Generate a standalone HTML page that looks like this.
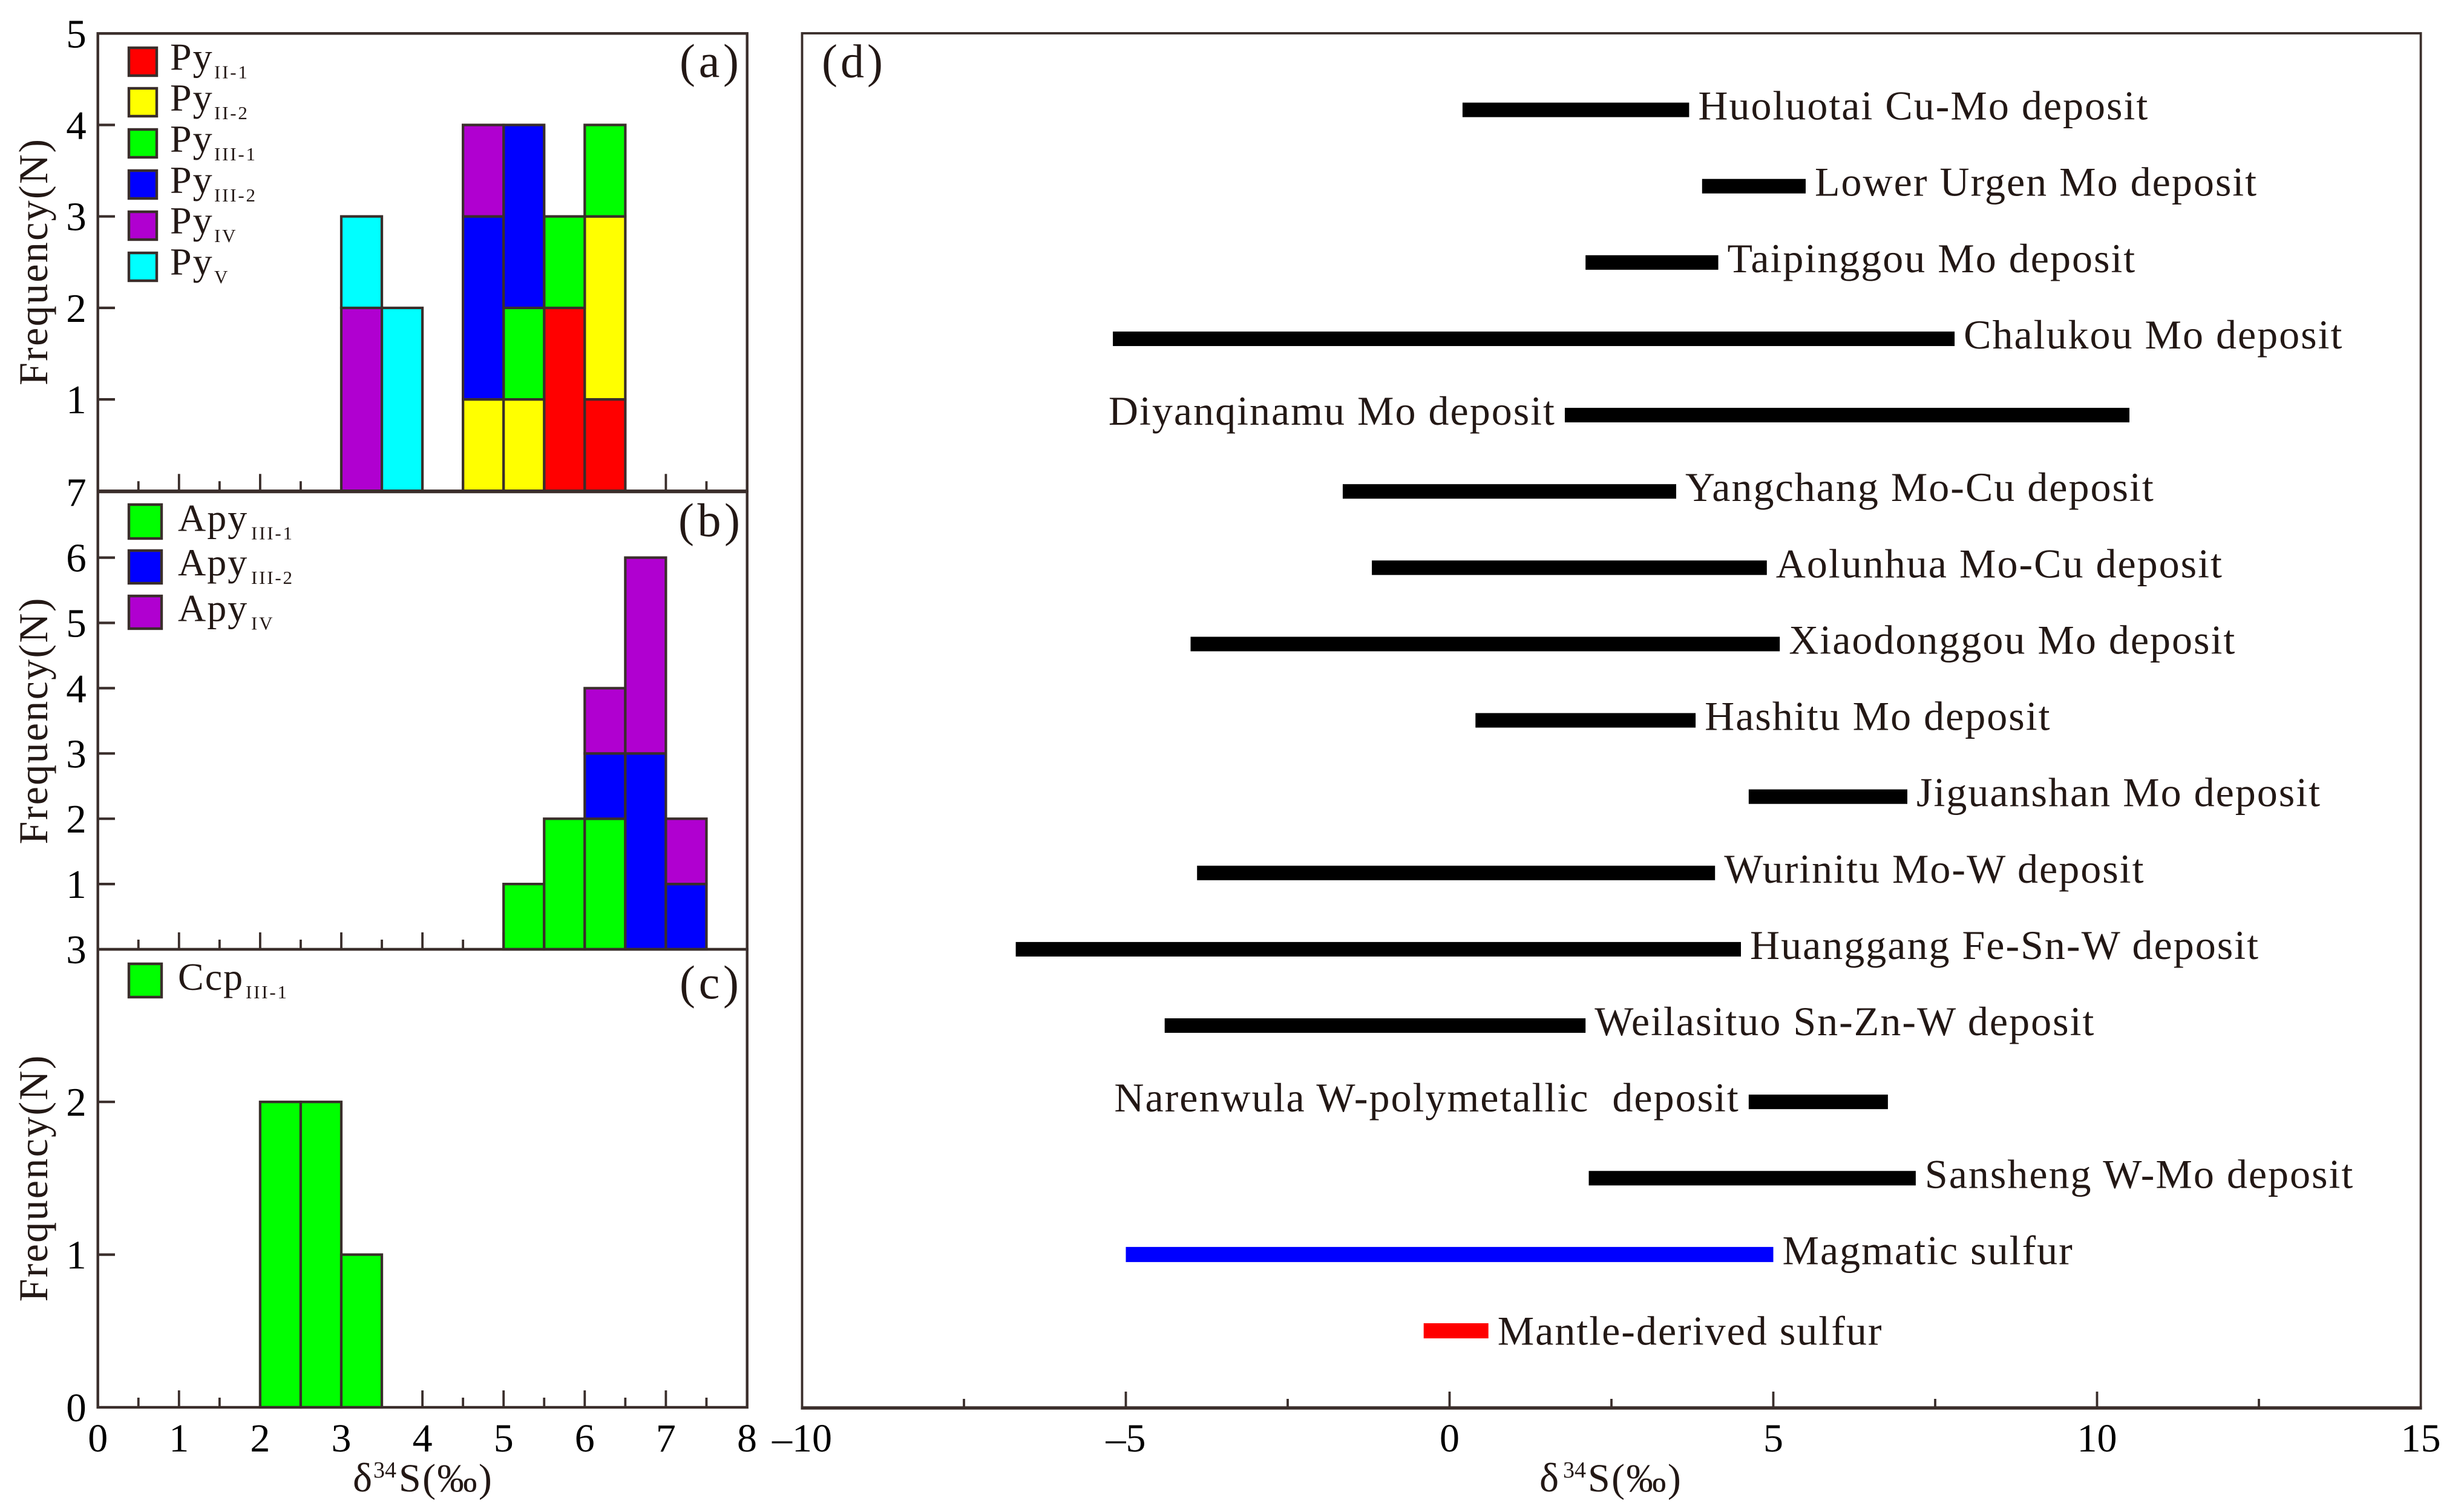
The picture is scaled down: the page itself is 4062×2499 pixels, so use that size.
<!DOCTYPE html>
<html lang="en">
<head>
<meta charset="utf-8">
<title>Sulfur isotope histograms and deposit ranges</title>
<style>
html,body{margin:0;padding:0;background:#fff;width:4062px;height:2499px;overflow:hidden}
svg{display:block}
text{font-family:"Liberation Serif","Times New Roman",serif;fill:#231815;white-space:pre}
</style>
</head>
<body>
<svg id="fig" xmlns="http://www.w3.org/2000/svg" width="4062" height="2499" viewBox="0 0 4062 2499"></svg>
<script>
// ---- Panel (a) data: bin starts and per-series counts ----
const binsA = [3, 3.5, 4, 4.5, 5, 5.5, 6];
const pyII1 = [0, 0, 0, 0, 0, 2, 1];
const pyII2 = [0, 0, 0, 1, 1, 0, 2];
const pyIII1 = [0, 0, 0, 0, 1, 1, 1];
const pyIII2 = [0, 0, 0, 2, 2, 0, 0];
const pyIV = [2, 0, 0, 1, 0, 0, 0];
const pyV = [1, 2, 0, 0, 0, 0, 0];
const ticksA = [1, 2, 3, 4, 5];
// ---- Panel (b) data ----
const binsB = [5, 5.5, 6, 6.5, 7];
const apyIII1 = [1, 2, 2, 0, 0];
const apyIII2 = [0, 0, 1, 3, 1];
const apyIV = [0, 0, 1, 3, 1];
const ticksB = [1, 2, 3, 4, 5, 6, 7];
// ---- Panel (c) data ----
const binsC = [2, 2.5, 3];
const ccpIII1 = [2, 2, 1];
const ticksC = [0, 1, 2, 3];
const ticksHistX = [0, 1, 2, 3, 4, 5, 6, 7, 8];
const minorHistX = [0.5, 1.5, 2.5, 3.5, 4.5, 5.5, 6.5, 7.5];
// ---- Panel (d) data ----
const deposits = ["Huoluotai Cu-Mo deposit", "Lower Urgen Mo deposit", "Taipinggou Mo deposit", "Chalukou Mo deposit", "Diyanqinamu Mo deposit", "Yangchang Mo-Cu deposit", "Aolunhua Mo-Cu deposit", "Xiaodonggou Mo deposit", "Hashitu Mo deposit", "Jiguanshan Mo deposit", "Wurinitu Mo-W deposit", "Huanggang Fe-Sn-W deposit", "Weilasituo Sn-Zn-W deposit", "Narenwula W-polymetallic  deposit", "Sansheng W-Mo deposit", "Magmatic sulfur", "Mantle-derived sulfur"];
const rangeMin = [0.2, 3.9, 2.1, -5.2, 1.78, -1.65, -1.2, -4.0, 0.4, 4.62, -3.9, -6.7, -4.4, 4.62, 2.15, -5, -0.4];
const rangeMax = [3.7, 5.5, 4.15, 7.8, 10.5, 3.5, 4.9, 5.1, 3.8, 7.07, 4.1, 4.5, 2.1, 6.77, 7.2, 5, 0.6];
const rangeKind = ["deposit", "deposit", "deposit", "deposit", "deposit", "deposit", "deposit", "deposit", "deposit", "deposit", "deposit", "deposit", "deposit", "deposit", "deposit", "magmatic", "mantle"];
const labelSide = ["right", "right", "right", "right", "left", "right", "right", "right", "right", "right", "right", "right", "right", "left", "right", "right", "right"];
const ticksDX = [-10, -5, 0, 5, 10, 15];
const minorDX = [-7.5, -2.5, 2.5, 7.5, 12.5];

const INK = "#3a2e2b";
const PURPLE = "#b000d0";
const svg = document.getElementById("fig");
const NS = "http://www.w3.org/2000/svg";
function mk(tag, attrs, text) {
  const el = document.createElementNS(NS, tag);
  for (const k in attrs) el.setAttribute(k, attrs[k]);
  if (text !== undefined) el.textContent = text;
  svg.appendChild(el);
  return el;
}
const histX = v => 161.7 + 134.1 * v;
const dX = v => 2395.5 + 107 * v;

function hline(x1, y1, x2, y2, w, name) {
  const el = mk("line", {x1, y1, x2, y2, stroke: INK, "stroke-width": w});
  
  
}

function drawSeries(bins, yScale, baseCounts, counts, color, name) {
  bins.forEach((b, i) => {
    if (!counts[i]) return;
    const base = baseCounts[i];
    const top = yScale(base + counts[i]);
    const bot = yScale(base);
    const r = mk("rect", {x: histX(b), y: top, width: histX(b + 0.5) - histX(b), height: bot - top, fill: color, stroke: INK, "stroke-width": 4.2});
    
    
    baseCounts[i] += counts[i];
  });
}

function drawFrame(left, right, top, bottom, name, wV) {
  const r = mk("rect", {x: left, y: top, width: right - left, height: bottom - top, fill: "none", stroke: INK, "stroke-width": wV});
  
  
}

function drawHistAxes(name, yScale, ticks, top, bottom) {
  ticks.forEach(t => {
    const y = yScale(t);
    if (y > top + 4 && y < bottom - 4) hline(161.7, y, 190, y, 4.2, name + '-y-tick-' + t);
    const lab = mk("text", {x: 126, y: y + 23, "font-size": 67, "text-anchor": "middle", style: "fill:#000"}, String(t));
    
    
  });
  ticksHistX.forEach(t => {
    if (t > 0 && t < 8) hline(histX(t), bottom - 28, histX(t), bottom, 3.8, name + '-x-tick-' + t);
  });
  minorHistX.forEach(t => {
    hline(histX(t), bottom - 16, histX(t), bottom, 3.8, name + '-x-minor-tick-' + t);
  });
}

function yTitle(cy, name) {
  const t = mk("text", {transform: "translate(78," + cy + ") rotate(-90)", "font-size": 68, "text-anchor": "middle", textLength: 407, lengthAdjust: "spacing"}, "Frequency(N)");
  
  
}

function panelLabel(text, x, y, name, len) {
  const t = mk("text", {x, y, "font-size": 78, textLength: len, lengthAdjust: "spacing"}, text);
  
  
}

function legendEntry(x, y, w, h, color, tx, tBase, main, sub, subGap, name) {
  const r = mk("rect", {x, y, width: w, height: h, fill: color, stroke: INK, "stroke-width": 4.4});
  
  
  const t = mk("text", {x: tx, y: tBase, "font-size": 64, style: "letter-spacing:2px"}, main);
  
  
  const s = mk("text", {x: tx + subGap, y: tBase + 14, "font-size": 31, style: "letter-spacing:2.8px"}, sub);
  
  
}

function xTitle(x0, xSup, xS, name) {
  const d = mk("text", {x: x0, y: 2465, "font-size": 68}, "δ");
  
  
  const s = mk("text", {x: xSup, y: 2442, "font-size": 38}, "34");
  
  
  const r = mk("text", {x: xS, y: 2465, "font-size": 66, style: "letter-spacing:2.4px"}, "S(‰)");
  
  
}

// ---------- Panel (a) ----------
const yA = v => 811.3 - 151.2 * v;
const baseA = binsA.map(() => 0);
drawSeries(binsA, yA, baseA, pyII1, "#ff0000", "py-ii-1");
drawSeries(binsA, yA, baseA, pyII2, "#ffff00", "py-ii-2");
drawSeries(binsA, yA, baseA, pyIII1, "#00ff00", "py-iii-1");
drawSeries(binsA, yA, baseA, pyIII2, "#0000ff", "py-iii-2");
drawSeries(binsA, yA, baseA, pyIV, PURPLE, "py-iv");
drawSeries(binsA, yA, baseA, pyV, "#00ffff", "py-v");
drawFrame(161.7, 1234.7, 55.3, 811.3, "panel-a", 4.4);
drawHistAxes("panel-a", yA, ticksA, 55.3, 811.3);
yTitle(433.5, "panel-a");
panelLabel("(a)", 1123, 127, "a", 98);
legendEntry(213, 79, 46, 46, "#ff0000", 281, 115.4, "Py", "II-1", 73, "py-ii-1");
legendEntry(213, 146, 46, 46, "#ffff00", 281, 183, "Py", "II-2", 73, "py-ii-2");
legendEntry(213, 214, 46, 46, "#00ff00", 281, 251, "Py", "III-1", 73, "py-iii-1");
legendEntry(213, 282, 46, 46, "#0000ff", 281, 319, "Py", "III-2", 73, "py-iii-2");
legendEntry(213, 350, 46, 46, PURPLE, 281, 386, "Py", "IV", 73, "py-iv");
legendEntry(213, 418, 46, 46, "#00ffff", 281, 454, "Py", "V", 73, "py-v");

// ---------- Panel (b) ----------
const yB = v => 1569 - 107.9 * v;
const baseB = binsB.map(() => 0);
drawSeries(binsB, yB, baseB, apyIII1, "#00ff00", "apy-iii-1");
drawSeries(binsB, yB, baseB, apyIII2, "#0000ff", "apy-iii-2");
drawSeries(binsB, yB, baseB, apyIV, PURPLE, "apy-iv");
drawFrame(161.7, 1234.7, 813, 1569, "panel-b", 4.4);
drawHistAxes("panel-b", yB, ticksB, 813, 1569);
yTitle(1192, "panel-b");
panelLabel("(b)", 1121, 886, "b", 102);
legendEntry(213, 834, 54, 56, "#00ff00", 294, 877.6, "Apy", "III-1", 121, "apy-iii-1");
legendEntry(213, 910, 54, 54, "#0000ff", 294, 951, "Apy", "III-2", 121, "apy-iii-2");
legendEntry(213, 985, 54, 54, PURPLE, 294, 1026.6, "Apy", "IV", 121, "apy-iv");

// ---------- Panel (c) ----------
const yC = v => 2326 - 252.4 * v;
const baseC = binsC.map(() => 0);
drawSeries(binsC, yC, baseC, ccpIII1, "#00ff00", "ccp-iii-1");
drawFrame(161.7, 1234.7, 1569, 2326, "panel-c", 4.4);
drawHistAxes("panel-c", yC, ticksC, 1569, 2326);
yTitle(1948, "panel-c");
panelLabel("(c)", 1123, 1650, "c", 98);
legendEntry(213, 1593, 54, 55, "#00ff00", 294, 1636, "Ccp", "III-1", 112, "ccp-iii-1");
ticksHistX.forEach(t => {
  const l = mk("text", {x: histX(t), y: 2399, "font-size": 66, "text-anchor": "middle", style: "fill:#000"}, String(t));
  
  
});
xTitle(583, 617, 659, "histogram");

// ---------- Panel (d) ----------
const rowY = i => 181.6 + 126.12 * i;
const kindColor = {deposit: "#000000", magmatic: "#0000ff", mantle: "#ff0000"};
const kindHeight = {deposit: 24, magmatic: 25, mantle: 25};
const kindBase = {deposit: 16, magmatic: 16, mantle: 23};
deposits.forEach((name, i) => {
  const kind = rangeKind[i];
  const x1 = dX(rangeMin[i]), x2 = dX(rangeMax[i]);
  const cy = rowY(i);
  const slug = name.toLowerCase().replace(/[^a-z0-9]+/g, '-');
  const b = mk("rect", {x: x1, y: cy - kindHeight[kind] / 2, width: x2 - x1, height: kindHeight[kind], fill: kindColor[kind]});
  
  
  const left = labelSide[i] === "left";
  const t = mk("text", {x: left ? x1 - 15 : x2 + 15, y: cy + kindBase[kind], "font-size": 68, "text-anchor": left ? "end" : "start", style: "letter-spacing:2px"}, name);
  
  
});
const frameD = mk("rect", {x: dX(-10), y: 55, width: dX(15) - dX(-10), height: 2272, fill: "none", stroke: INK, "stroke-width": 3.8});


hline(dX(-10) - 2, 2327, dX(15) + 2, 2327, 5.5, 'panel-d-x-axis');
ticksDX.forEach(t => {
  if (t > -10 && t < 15) hline(dX(t), 2300, dX(t), 2327, 3.8, 'panel-d-x-tick-' + t);
  const l = mk("text", {x: dX(t), y: 2399, "font-size": 66, "text-anchor": "middle", style: "fill:#000"}, (t < 0 ? "–" : "") + Math.abs(t));
  
  
});
minorDX.forEach(t => {
  hline(dX(t), 2312, dX(t), 2327, 3.8, 'panel-d-x-minor-tick-' + t);
});
xTitle(2544, 2583, 2624, "panel-d");
panelLabel("(d)", 1358, 127.5, "d", 101);
</script>
</body>
</html>
